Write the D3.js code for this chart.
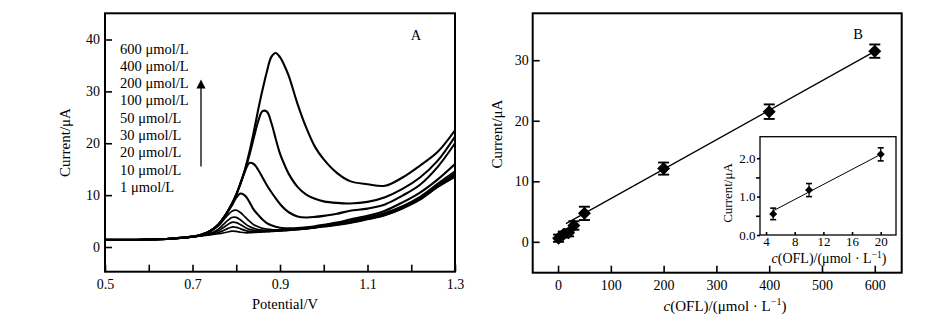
<!DOCTYPE html>
<html><head><meta charset="utf-8">
<script src="https://cdn.jsdelivr.net/npm/d3@7"></script>
<style>
body{margin:0;background:#fff}
svg{display:block}
text{font-family:"Liberation Serif","Times New Roman",serif;fill:#000}
</style>
</head><body>
<svg id="chart" width="950" height="327"></svg>
<script>
// ---------- Panel A data (DPV curves) ----------
const potential = [0.50,0.60,0.65,0.70,0.72,0.74,0.76,0.77,0.78,0.79,0.80,0.81,0.82,0.83,0.84,0.85,0.86,0.87,0.88,0.89,0.90,0.91,0.92,0.94,0.96,0.98,1.00,1.03,1.06,1.10,1.14,1.18,1.22,1.26,1.30];
const cur1   = [1.4,1.45,1.6,1.95,2.15,2.35,2.55,2.7,2.9,3.05,3.0,2.85,2.75,2.75,2.8,2.85,2.9,2.95,3.0,3.05,3.1,3.15,3.2,3.35,3.5,3.7,3.9,4.2,4.6,5.3,6.1,7.4,9.1,11.5,13.5];
const cur10  = [1.4,1.45,1.6,1.95,2.2,2.45,2.8,3.15,3.55,3.85,3.8,3.5,3.2,3.0,2.95,2.95,3.0,3.0,3.05,3.1,3.15,3.2,3.25,3.4,3.55,3.75,3.95,4.3,4.7,5.4,6.2,7.5,9.2,11.6,13.8];
const cur20  = [1.4,1.45,1.6,1.95,2.2,2.55,3.15,3.7,4.3,4.75,4.7,4.3,3.8,3.4,3.2,3.1,3.05,3.05,3.1,3.15,3.2,3.25,3.3,3.45,3.6,3.8,4.0,4.4,4.8,5.5,6.3,7.6,9.3,11.8,14.0];
const cur30  = [1.4,1.45,1.6,1.95,2.2,2.6,3.5,4.3,5.1,5.7,5.7,5.2,4.5,3.95,3.6,3.35,3.25,3.2,3.2,3.2,3.25,3.3,3.35,3.5,3.65,3.85,4.1,4.5,4.9,5.6,6.5,7.8,9.5,11.9,14.3];
const cur50  = [1.4,1.45,1.6,2.0,2.3,2.95,4.1,5.1,6.1,6.9,7.1,6.6,5.8,5.0,4.3,3.9,3.6,3.45,3.35,3.3,3.3,3.35,3.4,3.5,3.65,3.85,4.2,4.6,5.0,5.7,6.6,7.9,9.7,12.2,14.6];
const cur100 = [1.4,1.45,1.6,2.0,2.35,3.05,4.4,5.5,6.7,8.0,9.5,10.3,9.9,8.7,7.2,6.2,5.3,4.6,4.2,3.9,3.7,3.6,3.6,3.65,3.8,4.0,4.3,4.7,5.3,6.0,7.0,8.6,10.5,13.0,16.0];
const cur200 = [1.4,1.45,1.6,2.0,2.35,3.05,4.4,5.5,6.8,8.3,10.1,12.3,14.6,16.2,16.0,14.9,13.4,11.9,10.6,9.4,8.3,7.4,6.7,5.9,5.7,5.8,6.0,6.4,7.0,7.4,8.2,9.9,12.0,15.4,20.0];
const cur400 = [1.4,1.45,1.6,2.0,2.35,3.05,4.4,5.5,6.8,8.3,10.1,12.3,14.8,17.7,21.0,24.2,26.2,26.1,24.0,20.9,18.0,15.9,14.1,11.6,10.1,9.3,8.8,8.5,8.4,8.7,9.6,11.2,13.4,16.6,21.3];
const cur600 = [1.4,1.45,1.6,2.0,2.35,3.05,4.4,5.5,6.8,8.3,10.1,12.4,15.0,18.3,22.2,26.4,30.3,33.8,36.6,37.4,36.6,35.0,33.0,27.6,23.0,19.3,16.9,14.3,12.7,12.1,11.8,13.4,15.7,18.3,22.5];
const curvesA = [cur1,cur10,cur20,cur30,cur50,cur100,cur200,cur400,cur600];
const legendLabels = ["600 μmol/L","400 μmol/L","200 μmol/L","100 μmol/L","50 μmol/L","30 μmol/L","20 μmol/L","10 μmol/L","1 μmol/L"];
const aXTicks = [0.5,0.6,0.7,0.8,0.9,1.0,1.1,1.2,1.3];
const aXLabelled = [0.5,0.7,0.9,1.1,1.3];
const aYTicks = [0,10,20,30,40];

// ---------- Panel B data (calibration) ----------
const bConc    = [1,10,20,30,50,200,400,600];
const bCurrent = [0.6,1.2,1.5,2.7,4.7,12.1,21.5,31.5];
const bError   = [0.6,0.5,0.6,0.7,1.1,1.0,1.2,1.1];
const bFitX = [15,605];
const bFitY = [3.0,31.7];
const bXTicks = [0,100,200,300,400,500,600];
const bYTicks = [0,10,20,30];

// ---------- Inset data ----------
const inConc    = [5,10,20];
const inCurrent = [0.55,1.17,2.1];
const inError   = [0.15,0.17,0.17];
const inFitX = [5,20];
const inFitY = [0.63,2.1];
const inXTicks = [4,8,12,16,20];
const inYTicks = [0,1,2];
const inYMinor = [0.5,1.5];

const svg = d3.select("#chart");
const black = "#000";

function styleAxis(g, fs){
  g.select(".domain").remove();
  g.selectAll(".tick line").attr("stroke",black).attr("stroke-width",1.6);
  g.selectAll(".tick text").attr("font-size",fs).attr("fill",black)
   .style("font-family",'"Liberation Serif","Times New Roman",serif');
}

// ================= Panel A =================
const A = {l:105, r:455, t:13.3, b:271.7};
const xA = d3.scaleLinear().domain([0.5,1.3]).range([A.l,A.r]);
const yA = d3.scaleLinear().domain([-4.76,45.05]).range([A.b,A.t]);

svg.append("g").attr("transform",`translate(0,${A.b})`)
  .call(d3.axisBottom(xA).tickValues(aXTicks).tickSize(-7).tickPadding(7)
    .tickFormat(d => aXLabelled.some(v=>Math.abs(v-d)<1e-6) ? d3.format(".1f")(d) : ""))
  .call(g=>styleAxis(g,14));
svg.append("g").attr("transform",`translate(${A.l},0)`)
  .call(d3.axisLeft(yA).tickValues(aYTicks).tickSize(-7).tickPadding(5).tickFormat(d3.format("d")))
  .call(g=>styleAxis(g,14));

svg.append("clipPath").attr("id","clipA").append("rect")
  .attr("x",A.l).attr("y",A.t).attr("width",A.r-A.l).attr("height",A.b-A.t);
const lineA = d3.line().x((d,i)=>xA(potential[i])).y(d=>yA(d)).curve(d3.curveCatmullRom.alpha(0.5));
svg.append("g").attr("clip-path","url(#clipA)")
  .selectAll("path").data(curvesA).join("path")
  .attr("d",lineA).attr("fill","none").attr("stroke",black)
  .attr("stroke-width",(d,i)=> i>=5 ? 2.1 : 1.7).attr("stroke-linejoin","round");

svg.append("rect").attr("x",A.l).attr("y",A.t).attr("width",A.r-A.l).attr("height",A.b-A.t)
  .attr("fill","none").attr("stroke",black).attr("stroke-width",2);

// legend
svg.append("g").selectAll("text").data(legendLabels).join("text")
  .attr("x",120).attr("y",(d,i)=>53.5+i*17.3).attr("font-size",14.5).text(d=>d);
// arrow
svg.append("defs").append("marker").attr("id","arr").attr("viewBox","0 0 10 10")
  .attr("refX",5).attr("refY",5).attr("markerWidth",7).attr("markerHeight",9).attr("orient","auto")
  .append("path").attr("d","M0,0L10,5L0,10Z").attr("fill",black);
svg.append("line").attr("x1",201).attr("x2",201).attr("y1",166.5).attr("y2",84)
  .attr("stroke",black).attr("stroke-width",1.3).attr("marker-end","url(#arr)");

svg.append("text").attr("x",416).attr("y",40).attr("text-anchor","middle").attr("font-size",14.5).text("A");
svg.append("text").attr("x",285).attr("y",309).attr("text-anchor","middle").attr("font-size",14.5).text("Potential/V");
svg.append("text").attr("transform","translate(70,142.5) rotate(-90)").attr("text-anchor","middle").attr("font-size",15).text("Current/μA");

// ================= Panel B =================
const B = {l:532.7, r:901.7, t:13.3, b:272.7};
const xB = d3.scaleLinear().domain([-48,651]).range([B.l,B.r]);
const yB = d3.scaleLinear().domain([-5.1,37.75]).range([B.b,B.t]);

svg.append("g").attr("transform",`translate(0,${B.b})`)
  .call(d3.axisBottom(xB).tickValues(bXTicks).tickSize(-7).tickPadding(7).tickFormat(d3.format("d")))
  .call(g=>styleAxis(g,14));
svg.append("g").attr("transform",`translate(${B.l},0)`)
  .call(d3.axisLeft(yB).tickValues(bYTicks).tickSize(-7).tickPadding(4).tickFormat(d3.format("d")))
  .call(g=>styleAxis(g,14));

svg.append("path").datum(bFitX).attr("d",d3.line().x(d=>xB(d)).y((d,i)=>yB(bFitY[i])))
  .attr("stroke",black).attr("stroke-width",1.3).attr("fill","none");

function drawPoints(xs, ys, es, sx, sy, cap, diag, sw){
  const g = svg.append("g");
  xs.forEach((c,i)=>{
    const x = sx(c), y0 = sy(ys[i]-es[i]), y1 = sy(ys[i]+es[i]);
    g.append("line").attr("x1",x).attr("x2",x).attr("y1",y0).attr("y2",y1).attr("stroke",black).attr("stroke-width",sw);
    g.append("line").attr("x1",x-cap).attr("x2",x+cap).attr("y1",y0).attr("y2",y0).attr("stroke",black).attr("stroke-width",sw+0.4);
    g.append("line").attr("x1",x-cap).attr("x2",x+cap).attr("y1",y1).attr("y2",y1).attr("stroke",black).attr("stroke-width",sw+0.4);
    const s = diag/2;
    g.append("path").attr("d",`M${x},${sy(ys[i])-s}L${x+s},${sy(ys[i])}L${x},${sy(ys[i])+s}L${x-s},${sy(ys[i])}Z`).attr("fill",black);
  });
}
drawPoints(bConc,bCurrent,bError,xB,yB,5.5,13,1.5);

svg.append("rect").attr("x",B.l).attr("y",B.t).attr("width",B.r-B.l).attr("height",B.b-B.t)
  .attr("fill","none").attr("stroke",black).attr("stroke-width",2);

svg.append("text").attr("x",858).attr("y",39).attr("text-anchor","middle").attr("font-size",14.5).text("B");
svg.append("text").attr("transform","translate(502,134) rotate(-90)").attr("text-anchor","middle").attr("font-size",15).text("Current/μA");
const bt = svg.append("text").attr("x",725).attr("y",310.5).attr("text-anchor","middle").attr("font-size",15);
bt.append("tspan").attr("font-style","italic").text("c");
bt.append("tspan").text("(OFL)/(μmol · L");
bt.append("tspan").attr("font-size",10).attr("dy",-6).text("−1");
bt.append("tspan").attr("dy",6).text(")");

// ================= Inset =================
const I = {l:760, r:896, t:136.7, b:235};
const xI = d3.scaleLinear().domain([3.16,22.13]).range([I.l,I.r]);
const yI = d3.scaleLinear().domain([0,2.56]).range([I.b,I.t]);
svg.append("rect").attr("x",I.l).attr("y",I.t).attr("width",I.r-I.l).attr("height",I.b-I.t)
  .attr("fill","#fff").attr("stroke",black).attr("stroke-width",1.3);

svg.append("g").attr("transform",`translate(0,${I.b})`)
  .call(d3.axisBottom(xI).tickValues(inXTicks).tickSize(-3).tickPadding(2).tickFormat(d3.format("d")))
  .call(g=>styleAxis(g,13));
svg.append("g").attr("transform",`translate(${I.l},0)`)
  .call(d3.axisLeft(yI).tickValues(inYTicks).tickSize(3).tickPadding(1.5).tickFormat(d3.format(".1f")))
  .call(g=>styleAxis(g,13));
svg.append("g").attr("transform",`translate(${I.l},0)`)
  .call(d3.axisLeft(yI).tickValues(inYMinor).tickSize(4).tickFormat(""))
  .call(g=>styleAxis(g,13));

svg.append("path").datum(inFitX).attr("d",d3.line().x(d=>xI(d)).y((d,i)=>yI(inFitY[i])))
  .attr("stroke",black).attr("stroke-width",1).attr("fill","none");
drawPoints(inConc,inCurrent,inError,xI,yI,3,8,1.2);

svg.append("text").attr("transform","translate(732,193) rotate(-90)").attr("text-anchor","middle").attr("font-size",13).text("Current/μA");
const it = svg.append("text").attr("x",829).attr("y",263).attr("text-anchor","middle").attr("font-size",14);
it.append("tspan").attr("font-style","italic").text("c");
it.append("tspan").text("(OFL)/(μmol · L");
it.append("tspan").attr("font-size",9.5).attr("dy",-5).text("−1");
it.append("tspan").attr("dy",5).text(")");
</script>
</body></html>
